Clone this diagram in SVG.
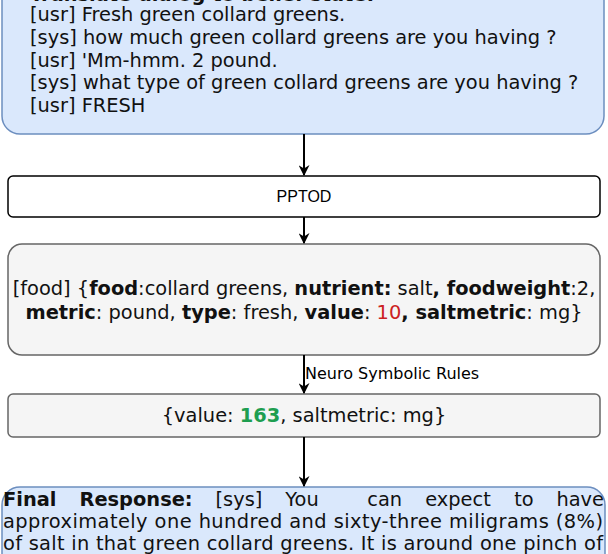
<svg xmlns="http://www.w3.org/2000/svg" width="608" height="554" viewBox="0 0 608 554">
<style>
.t{font-family:"DejaVu Sans",Verdana,sans-serif;font-size:19.4px;fill:#111}
.b{font-weight:bold}
.blue{fill:#dae8fc;stroke:#6c8ebf;stroke-width:1.5}
.gray{fill:#f5f5f5;stroke:#666;stroke-width:1.5}
.edge{stroke:#000;stroke-width:2;fill:none}
</style>
<defs>
<marker id="ah" viewBox="0 0 10 10" refX="9" refY="5" markerWidth="5.5" markerHeight="5.5" orient="auto" markerUnits="strokeWidth">
<path d="M0,0 L10,5 L0,10 L3,5 z" fill="#000"/>
</marker>
</defs>
<g id="dialog">
<rect class="blue" x="2" y="-60" width="602" height="194" rx="18"/>
<text class="t b" x="30" y="0.5">Translate dialog to belief state:</text>
<text class="t" x="30" y="21">[usr] Fresh green collard greens.</text>
<text class="t" x="30" y="43.8">[sys] how much green collard greens are you having ?</text>
<text class="t" x="30" y="66.6">[usr] 'Mm-hmm. 2 pound.</text>
<text class="t" x="30" y="89.4">[sys] what type of green collard greens are you having ?</text>
<text class="t" x="30" y="112.2">[usr] FRESH</text>
</g>
<g id="pptod">
<rect x="8" y="176" width="592" height="41" rx="5" fill="#fff" stroke="#000" stroke-width="1.5"/>
<text x="304" y="202" text-anchor="middle" font-family="Liberation Sans,Arial,sans-serif" font-size="16" fill="#000">PPTOD</text>
</g>
<g id="belief">
<rect class="gray" x="8" y="244" width="592" height="111" rx="14"/>
<text class="t" x="304" y="295" text-anchor="middle">[food] {<tspan class="b">food</tspan>:collard greens, <tspan class="b">nutrient:</tspan> salt<tspan class="b">, foodweight</tspan>:2,</text>
<text class="t" x="304" y="319" text-anchor="middle"><tspan class="b">metric</tspan>: pound, <tspan class="b">type</tspan>: fresh, <tspan class="b">value</tspan>: <tspan fill="#cc2222">10</tspan><tspan class="b">, saltmetric</tspan>: mg}</text>
</g>
<g id="value">
<rect class="gray" x="8" y="394" width="592" height="43" rx="5"/>
<text class="t" x="304" y="422" text-anchor="middle">{value: <tspan class="b" fill="#1e9e50">163</tspan>, saltmetric: mg}</text>
</g>
<g id="response">
<rect class="blue" x="2" y="487" width="603" height="120" rx="18"/>
<text class="t b" x="3" y="506">Final</text>
<text class="t b" x="79.5" y="506">Response:</text>
<text class="t" x="215.5" y="506">[sys]</text>
<text class="t" x="285.3" y="506">You</text>
<text class="t" x="367.3" y="506">can</text>
<text class="t" x="425.2" y="506">expect</text>
<text class="t" x="514.2" y="506">to</text>
<text class="t" x="604" y="506" text-anchor="end">have</text>
<text class="t" x="3" y="528" textLength="600" lengthAdjust="spacing">approximately one hundred and sixty-three miligrams (8%)</text>
<text class="t" x="3" y="550" textLength="600" lengthAdjust="spacing">of salt in that green collard greens. It is around one pinch of</text>
</g>
<g id="connectors">
<line class="edge" x1="304" y1="134" x2="304" y2="175" marker-end="url(#ah)"/>
<line class="edge" x1="304" y1="217" x2="304" y2="243" marker-end="url(#ah)"/>
<line class="edge" x1="304" y1="355" x2="304" y2="393" marker-end="url(#ah)"/>
<line class="edge" x1="304" y1="437" x2="304" y2="486" marker-end="url(#ah)"/>
<text x="305" y="379" font-family="DejaVu Sans,Verdana,sans-serif" font-size="16" fill="#000">Neuro Symbolic Rules</text>
</g>
</svg>
